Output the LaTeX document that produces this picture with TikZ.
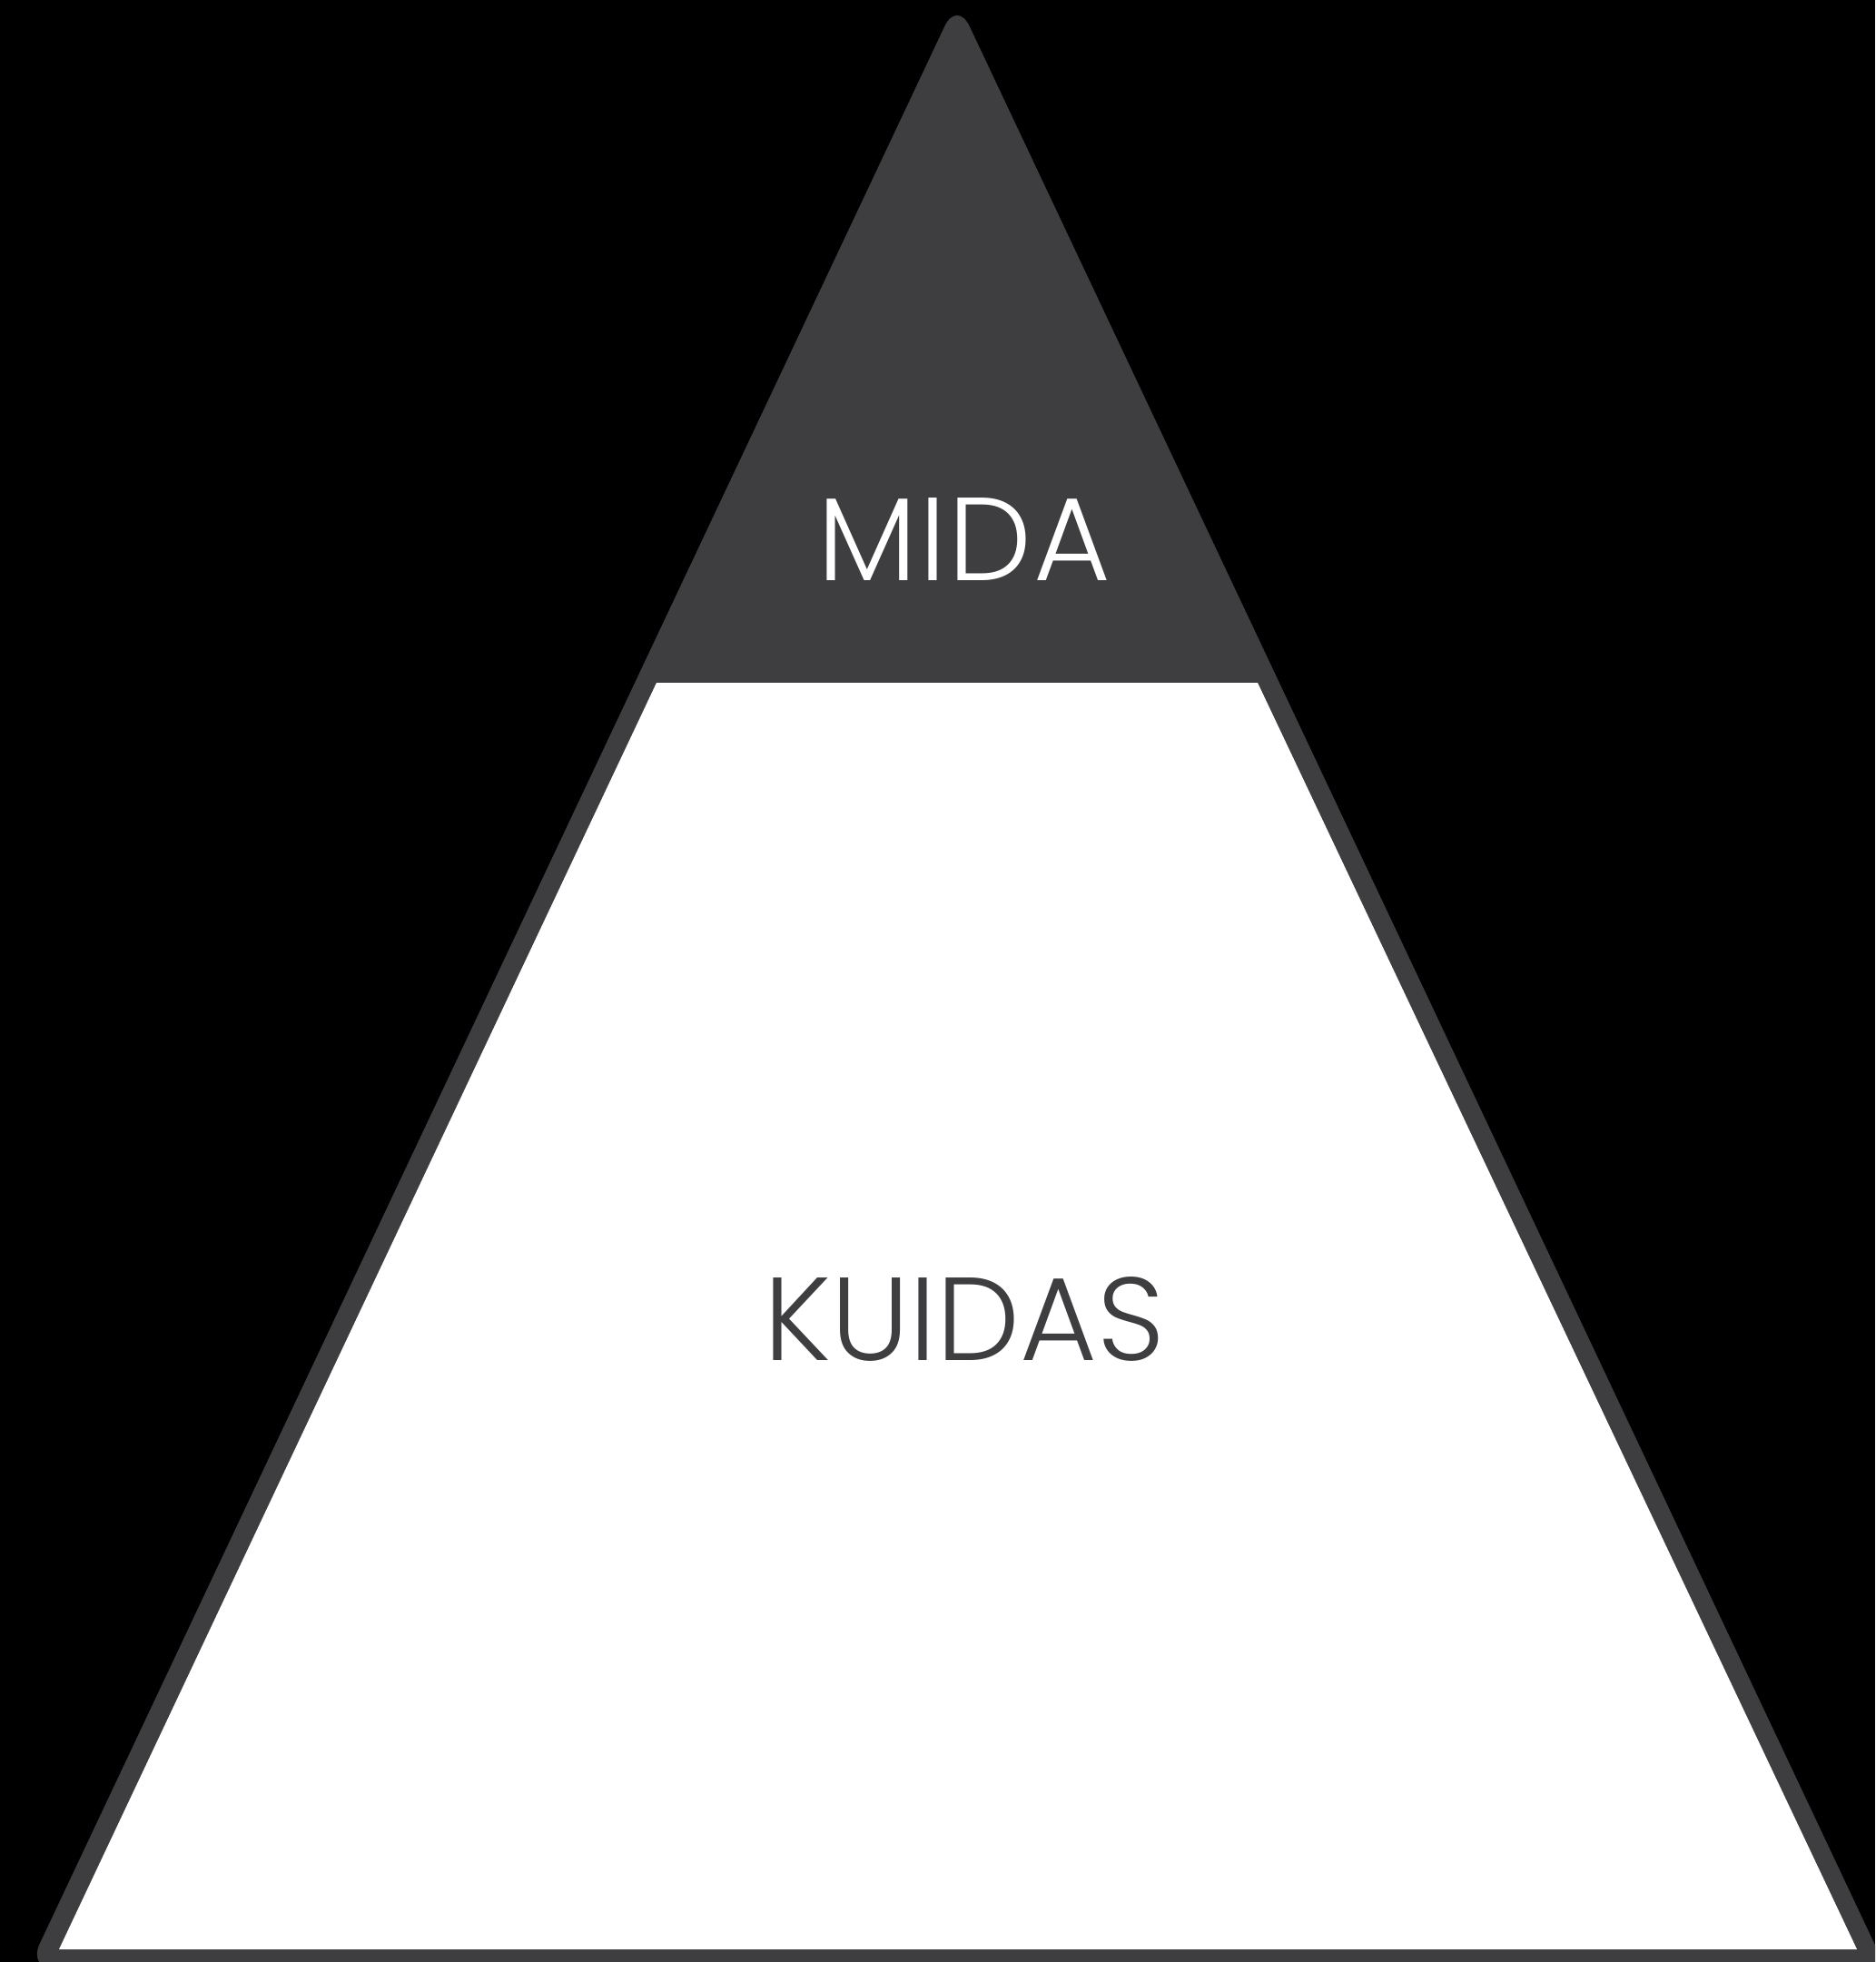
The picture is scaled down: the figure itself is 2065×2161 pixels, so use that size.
\documentclass[tikz,border=0pt]{standalone}
\usepackage{fontspec}
\setmainfont{Poppins}[UprightFont=* Light]
\definecolor{pgray}{HTML}{3E3E40}
\begin{document}
\begin{tikzpicture}[x=0.01cm,y=-0.01cm,
  label/.style={inner sep=0pt, font=\fontsize{37}{40}\selectfont}]
\useasboundingbox (0,0) rectangle (2065,2161);
\fill[black] (0,0) rectangle (2065,2161);
\begin{scope}
\clip (0,0) rectangle (2065,2161);
\fill[pgray, rounded corners=0.32cm] (1054,0) -- (2078,2170) -- (30,2170) -- cycle;
\end{scope}
\fill[white] (723,752) -- (1385,752) -- (2045,2147) -- (65,2147) -- cycle;
\node[label, text=white] (mida) at (1062,594) {M\kern0.6pt I\kern0.6pt D\kern0.6pt A};
\node[label, text=pgray] (kuidas) at (1062,1453) {KUIDAS};
\end{tikzpicture}
\end{document}
